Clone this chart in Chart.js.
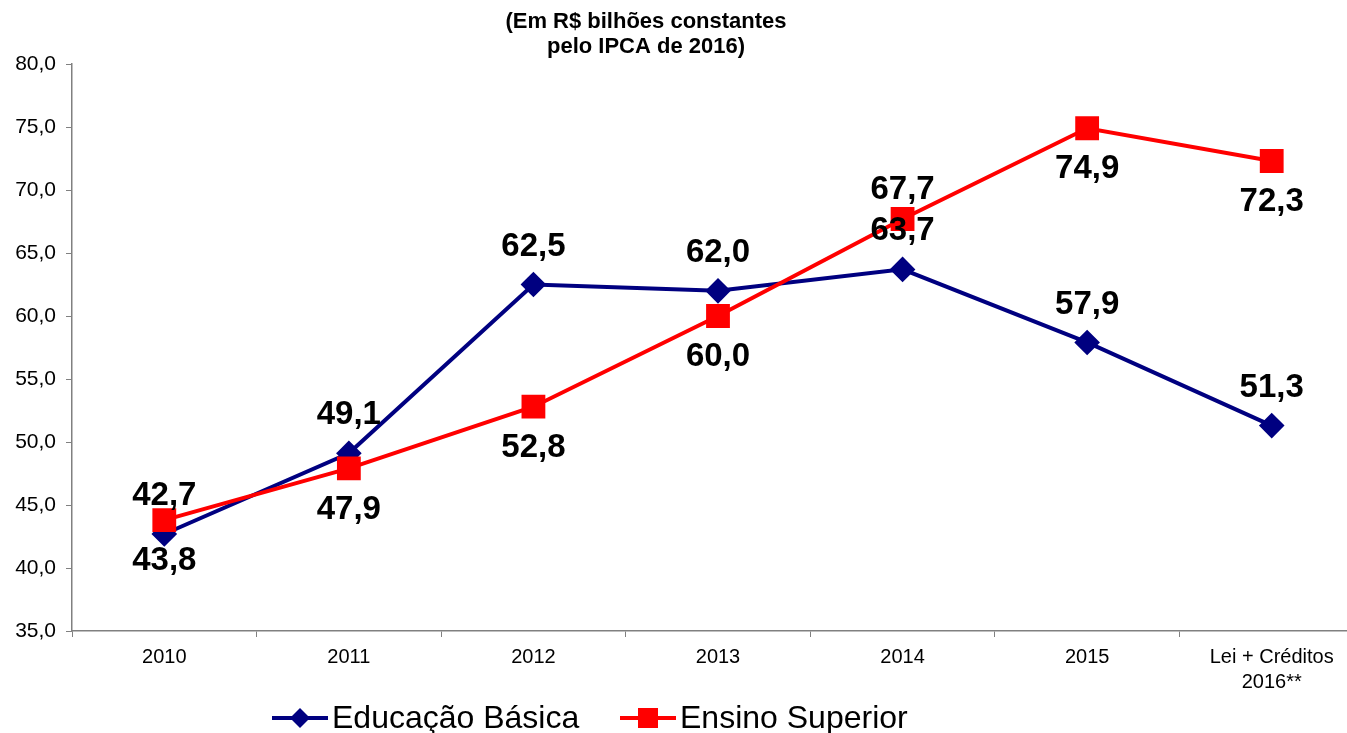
<!DOCTYPE html>
<html>
<head>
<meta charset="utf-8">
<script src="https://cdn.jsdelivr.net/npm/chart.js@4/dist/chart.umd.min.js"></script>
<style>
  html, body { margin: 0; padding: 0; background: #fff; overflow: hidden; }
  #wrap { width: 1347px; height: 733px; overflow: hidden; }
</style>
</head>
<body>
<div id="wrap"><canvas id="chart" width="1382" height="733"></canvas></div>
<script>
// Values (R$ bilhões, IPCA 2016)
const YEARS = ["2010", "2011", "2012", "2013", "2014", "2015", ["Lei + Créditos", "2016**"]];
const BASICA = [42.7, 49.1, 62.5, 62.0, 63.7, 57.9, 51.3];
const SUPERIOR = [43.8, 47.9, 52.8, 60.0, 67.7, 74.9, 72.3];
const TITLE_LINES = ["(Em R$ bilhões constantes", "pelo IPCA de 2016)"];
const SERIES_NAMES = ["Educação Básica", "Ensino Superior"];

const fmt = v => v.toFixed(1).replace('.', ',');

// where each value label sits relative to its point
const labelPos = [
    ['up', 'up', 'up', 'up', 'up', 'up', 'up'],
    ['down', 'down', 'down', 'down', 'up', 'down', 'down']
];

const valueLabels = {
    id: 'valueLabels',
    afterDatasetsDraw(chart) {
        const ctx = chart.ctx;
        ctx.save();
        ctx.font = 'bold 33px "Liberation Sans", Arial, sans-serif';
        ctx.fillStyle = '#000';
        ctx.textAlign = 'center';
        ctx.textBaseline = 'middle';
        chart.data.datasets.forEach((ds, di) => {
            const meta = chart.getDatasetMeta(di);
            meta.data.forEach((pt, i) => {
                const pos = labelPos[di][i];
                let dy = pos === 'up' ? -38 : 41;
                if (di === 1 && pos === 'up') dy = -29;
                ctx.fillText(fmt(ds.data[i]), pt.x, pt.y + dy);
            });
        });
        ctx.restore();
    }
};

const titleAndLegend = {
    id: 'titleAndLegend',
    afterDraw(chart) {
        const ctx = chart.ctx;
        ctx.save();
        ctx.fillStyle = '#000';
        ctx.textAlign = 'center';
        ctx.textBaseline = 'middle';
        ctx.font = 'bold 22px "Liberation Sans", Arial, sans-serif';
        TITLE_LINES.forEach((t, i) => ctx.fillText(t, 646, 22 + i * 25));

        // legend: line + marker + name
        ctx.font = '32px "Liberation Sans", Arial, sans-serif';
        ctx.textAlign = 'left';
        const y = 718;
        let x = 272;
        chart.data.datasets.forEach((ds, di) => {
            ctx.strokeStyle = ds.borderColor;
            ctx.lineWidth = 4;
            ctx.beginPath();
            ctx.moveTo(x, y);
            ctx.lineTo(x + 56, y);
            ctx.stroke();
            ctx.fillStyle = ds.borderColor;
            const cx = x + 28;
            if (ds.pointStyle === 'rectRot') {
                ctx.beginPath();
                ctx.moveTo(cx, y - 10);
                ctx.lineTo(cx + 10, y);
                ctx.lineTo(cx, y + 10);
                ctx.lineTo(cx - 10, y);
                ctx.closePath();
                ctx.fill();
            } else {
                ctx.fillRect(cx - 10, y - 10, 20, 20);
            }
            ctx.fillStyle = '#000';
            ctx.fillText(SERIES_NAMES[di], x + 60, y + 1);
            x += 348;
        });
        ctx.restore();
    }
};

new Chart(document.getElementById('chart'), {
    type: 'line',
    data: {
        labels: YEARS,
        datasets: [
            {
                label: SERIES_NAMES[0],
                data: BASICA,
                borderColor: '#000080',
                backgroundColor: '#000080',
                borderWidth: 4,
                pointStyle: 'rectRot',
                pointRadius: 10,
                pointHoverRadius: 10,
                tension: 0,
                order: 1
            },
            {
                label: SERIES_NAMES[1],
                data: SUPERIOR,
                borderColor: '#ff0000',
                backgroundColor: '#ff0000',
                borderWidth: 4,
                pointStyle: 'rect',
                pointRadius: 14,
                pointHoverRadius: 14,
                tension: 0,
                order: 0
            }
        ]
    },
    options: {
        responsive: false,
        animation: false,
        layout: { padding: { top: 64, right: 0, bottom: 30, left: 0 } },
        plugins: {
            legend: { display: false },
            title: { display: false },
            tooltip: { enabled: false }
        },
        scales: {
            x: {
                offset: true,
                grid: { offset: true, drawOnChartArea: false, drawTicks: true, tickLength: 6, color: '#808080' },
                border: { color: '#808080', width: 1.5 },
                ticks: {
                    color: '#000',
                    padding: 8,
                    maxRotation: 0,
                    autoSkip: false,
                    font: { family: '"Liberation Sans", Arial, sans-serif', size: 20, lineHeight: 1.25 }
                }
            },
            y: {
                min: 35,
                max: 80,
                afterFit(scale) { scale.width = 72; },
                grid: { drawOnChartArea: false, drawTicks: true, tickLength: 6, color: '#808080' },
                border: { color: '#808080', width: 1.5 },
                ticks: {
                    stepSize: 5,
                    color: '#000',
                    padding: 10,
                    font: { family: '"Liberation Sans", Arial, sans-serif', size: 21 },
                    callback: v => fmt(v)
                }
            }
        }
    },
    plugins: [valueLabels, titleAndLegend]
});
</script>
</body>
</html>
